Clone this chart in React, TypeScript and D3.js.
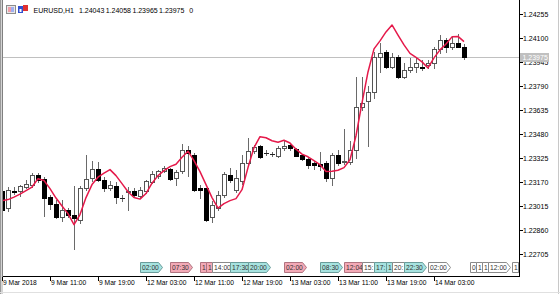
import React from "react";
import * as d3 from "d3";

// ---- data (EURUSD H1) ----
const opens = [1.23112,1.23002,1.23112,1.23109,1.23136,1.23151,1.23215,1.23189,1.23069,1.23026,1.22938,1.22989,1.22952,1.22925,1.23131,1.23196,1.23254,1.2318,1.23129,1.23144,1.23067,1.23105,1.23107,1.2308,1.23107,1.23168,1.23209,1.23237,1.23254,1.23194,1.23237,1.23373,1.23344,1.23127,1.23129,1.22938,1.23,1.23086,1.23215,1.23118,1.23177,1.23291,1.23366,1.23403,1.23357,1.23351,1.23333,1.23388,1.23404,1.23381,1.23344,1.23317,1.23291,1.23286,1.23291,1.23194,1.23344,1.23296,1.23299,1.23377,1.23656,1.23689,1.23753,1.23979,1.24012,1.23911,1.23979,1.2385,1.23893,1.23915,1.23913,1.23926,1.23937,1.24027,1.24087,1.24044,1.2407,1.24043];
const highs = [1.23131,1.23138,1.23138,1.23151,1.23183,1.23228,1.23228,1.23202,1.23086,1.23054,1.23054,1.23002,1.2314,1.23144,1.23344,1.23306,1.23296,1.23199,1.23177,1.2317,1.23086,1.23136,1.23131,1.23136,1.23183,1.23237,1.23248,1.23273,1.23259,1.23243,1.23414,1.23398,1.23355,1.23151,1.23131,1.23043,1.23107,1.23235,1.23261,1.23248,1.23344,1.23452,1.23409,1.23409,1.23377,1.23362,1.23398,1.2343,1.23415,1.23388,1.23351,1.2333,1.23301,1.23359,1.23301,1.23355,1.23377,1.2351,1.2343,1.23848,1.23848,1.23786,1.24012,1.24066,1.24023,1.24001,1.2399,1.23937,1.23969,1.23969,1.23958,1.23958,1.24044,1.24119,1.24098,1.24108,1.24126,1.24058];
const lows = [1.22983,1.2298,1.23093,1.2308,1.23131,1.23138,1.2317,1.22946,1.22996,1.22934,1.22914,1.22938,1.22735,1.22905,1.23118,1.23172,1.23177,1.23112,1.23118,1.23033,1.23043,1.22989,1.23075,1.23071,1.23097,1.23162,1.23194,1.2323,1.23183,1.23151,1.23226,1.23204,1.23112,1.23065,1.22914,1.22912,1.22989,1.23073,1.2317,1.23105,1.23157,1.2328,1.23355,1.23323,1.23344,1.23338,1.2333,1.23377,1.23377,1.23333,1.23308,1.23259,1.23252,1.23248,1.23172,1.23151,1.2328,1.23286,1.23286,1.23323,1.23635,1.23398,1.23711,1.23882,1.23904,1.23904,1.2384,1.2384,1.23882,1.23882,1.23893,1.23904,1.23904,1.24001,1.24012,1.24027,1.2404,1.23965];
const closes = [1.22989,1.23118,1.23105,1.2314,1.23157,1.23215,1.23183,1.23067,1.23026,1.22938,1.22985,1.22951,1.22936,1.23129,1.23189,1.23254,1.2318,1.23129,1.23151,1.2307,1.23062,1.2311,1.23086,1.23114,1.23172,1.23222,1.23237,1.23259,1.23189,1.2323,1.23377,1.23354,1.23118,1.23118,1.22925,1.23018,1.23083,1.23222,1.23183,1.23196,1.23293,1.23366,1.23392,1.2333,1.23353,1.23346,1.23388,1.23403,1.23388,1.23338,1.23319,1.2328,1.23275,1.23273,1.23194,1.23344,1.23291,1.23302,1.23377,1.23654,1.23682,1.23753,1.23979,1.24005,1.23915,1.23979,1.2385,1.23893,1.23915,1.23937,1.23908,1.23941,1.24027,1.24087,1.24044,1.2407,1.24044,1.23975];
const maValues = [1.23047,1.23054,1.2307,1.23089,1.23112,1.23135,1.23189,1.23177,1.23125,1.23064,1.23012,1.22963,1.22892,1.22957,1.23067,1.23151,1.23199,1.23225,1.23248,1.23209,1.23157,1.23105,1.23067,1.23057,1.23093,1.2316,1.23209,1.23241,1.23267,1.23283,1.23328,1.23367,1.23306,1.23235,1.23151,1.23067,1.22999,1.23028,1.23047,1.2306,1.23118,1.23261,1.2339,1.23461,1.23454,1.23435,1.23425,1.23438,1.2342,1.2338,1.23348,1.23331,1.23306,1.2328,1.23235,1.23237,1.23244,1.23261,1.23312,1.23467,1.2368,1.2388,1.24029,1.24081,1.24139,1.24184,1.24119,1.24055,1.24,1.23974,1.23945,1.23906,1.23971,1.24023,1.24061,1.24107,1.2411,1.24076];

const priceTicks = [1.24255,1.241,1.23945,1.2379,1.23635,1.2348,1.23325,1.2317,1.23015,1.2286,1.22705];
const priceLabels = ["1.24255","1.24100","1.23945","1.23790","1.23635","1.23480","1.23325","1.23170","1.23015","1.22860","1.22705"];
const timeTickBars = [0,8,16,24,32,40,48,56,64,72];
const timeTickLabels = ["9 Mar 2018","9 Mar 11:00","9 Mar 19:00","12 Mar 03:00","12 Mar 11:00","12 Mar 19:00","13 Mar 03:00","13 Mar 11:00","13 Mar 19:00","14 Mar 03:00"];

const eventBars = [23,28,33,34,35,38,41,47,53,57,60,62,64,65,67,71,78,79,80,81,85,86];
const eventLabels = ["02:00","07:30","12:30","13:30","14:00","17:30","20:00","02:00","08:30","12:04","15:00","17:00","19:00","20:00","22:30","02:00","09:00","10:00","11:00","12:00","16:00","17:00"];
const eventKinds = ["t","p","p","p","w","t","t","p","t","p","w","t","t","w","t","w","w","w","w","w","w","w"];

const symbolText = "EURUSD,H1";
const ohlcValues = ["1.24043", "1.24058", "1.23965", "1.23975"];
const volumeText = "0";
const lastPrice = 1.23975;
const lastPriceLabel = "1.23975";

const FONT = "'Liberation Sans', Arial, sans-serif";
const PLOT_R = 519;
const PLOT_B = 276;
const EV_FONT = 6.7;
const EV_W = 22;

const kindFill: Record<string, string> = { t: "#a6e3e0", p: "#f3a9b6", w: "#ffffff" };
const kindStroke: Record<string, string> = { t: "#6a9c9a", p: "#b07480", w: "#8a8a8a" };

function fitLabel(label: string, avail: number) {
  let w = 1.6;
  let out = "";
  for (const ch of label) {
    const cw = (ch === ":" ? 0.278 : 0.556) * EV_FONT;
    if (w + cw > avail + 0.4) break;
    w += cw;
    out += ch;
  }
  return out;
}

export default function App() {
  const x = d3.scaleLinear().domain([0, 1]).range([2, 8]);
  const y = d3.scaleLinear().domain([1.22705, 1.24255]).range([253.5, 14]);
  const maLine = d3
    .line<number>()
    .x((_, i) => x(i))
    .y((d) => y(d));

  const candles = opens.map((o, i) => {
    const c = closes[i];
    const cx = Math.round(x(i));
    const yo = Math.round(y(o));
    const yc = Math.round(y(c));
    const top = Math.min(yo, yc);
    const bot = Math.max(yo, yc);
    const bull = c >= o;
    return (
      <g key={i}>
        <line x1={cx + 0.5} x2={cx + 0.5} y1={Math.round(y(highs[i]))} y2={Math.round(y(lows[i])) + 1} stroke="#6a6a6a" strokeWidth={1} />
        {bot - top >= 1 ? (
          <rect x={cx - 1.5} y={top + 0.5} width={4} height={bot - top} fill={bull ? "#ffffff" : "#000000"} stroke={bull ? "#555555" : "#000000"} strokeWidth={1} />
        ) : (
          <line x1={cx - 2} x2={cx + 3} y1={top + 0.5} y2={top + 0.5} stroke="#222" strokeWidth={1} />
        )}
      </g>
    );
  });

  const yLast = Math.round(y(lastPrice)) + 0.5;

  const events = eventBars.map((b, i) => {
    const ex = Math.round(x(b)) + 0.5;
    const nextX = i + 1 < eventBars.length ? Math.round(x(eventBars[i + 1])) + 0.5 : Infinity;
    const avail = Math.min(nextX, PLOT_R) - ex;
    const y0 = 262.5, y1 = 272.5;
    const full = avail >= EV_W;
    const w = full ? EV_W : avail;
    const pts = full
      ? `${ex},${y0} ${ex + w - 4},${y0} ${ex + w},${(y0 + y1) / 2} ${ex + w - 4},${y1} ${ex},${y1}`
      : `${ex},${y0} ${ex + w},${y0} ${ex + w},${y1} ${ex},${y1}`;
    const txt = full ? eventLabels[i] : fitLabel(eventLabels[i], avail);
    return (
      <g key={"e" + i}>
        <polygon points={pts} fill={kindFill[eventKinds[i]]} stroke={kindStroke[eventKinds[i]]} strokeWidth={1} />
        {txt && (
          <text x={ex + 1.6} y={270.3} fontSize={EV_FONT} fill="#333">{txt}</text>
        )}
      </g>
    );
  });

  const ohlcX = [79, 105.7, 132.4, 159.1];

  return (
    <svg width={560} height={294} style={{ position: "absolute", left: 0, top: 0, display: "block", background: "#ffffff" }} fontFamily={FONT}>
      <rect x={0} y={0} width={560} height={294} fill="#ffffff" />
      <defs>
        <clipPath id="plot">
          <rect x={3} y={0} width={PLOT_R - 3} height={PLOT_B} />
        </clipPath>
      </defs>

      {/* price line */}
      <line x1={3} x2={PLOT_R} y1={yLast} y2={yLast} stroke="#c0c0c0" strokeWidth={1} />

      <g clipPath="url(#plot)">
        {candles}
        <path d={maLine(maValues) || ""} fill="none" stroke="#e5194a" strokeWidth={1.5} strokeLinejoin="round" />
        {events}
      </g>

      {/* left frame */}
      <rect x={0} y={0} width={3} height={294} fill="#d4d4d4" />
      <line x1={0.5} x2={0.5} y1={0} y2={294} stroke="#9a9a9a" />
      <line x1={2.5} x2={2.5} y1={0} y2={PLOT_B + 1} stroke="#808080" />

      {/* axes */}
      <line x1={PLOT_R + 0.5} x2={PLOT_R + 0.5} y1={0} y2={PLOT_B + 1} stroke="#000" />
      <line x1={3} x2={PLOT_R + 1} y1={PLOT_B + 0.5} y2={PLOT_B + 0.5} stroke="#000" />

      {priceTicks.map((p, i) => {
        const ty = Math.round(y(p)) + 0.5;
        return (
          <g key={"p" + i}>
            <line x1={PLOT_R + 1} x2={PLOT_R + 4} y1={ty} y2={ty} stroke="#000" />
            <text x={523} y={ty + 2.5} fontSize={7} fill="#000">{priceLabels[i]}</text>
          </g>
        );
      })}

      {/* last price tag */}
      <rect x={520} y={yLast - 4.5} width={29} height={9} fill="#c0c0c0" />
      <text x={522.5} y={yLast + 2.5} fontSize={7} fill="#ffffff">{lastPriceLabel}</text>

      {timeTickBars.map((b, i) => {
        const tx = Math.round(x(b)) + 0.5;
        return (
          <g key={"t" + i}>
            <line x1={tx} x2={tx} y1={PLOT_B + 1} y2={PLOT_B + 5} stroke="#000" />
            <text x={tx + 0.5} y={285} fontSize={6.7} fill="#000">{timeTickLabels[i]}</text>
          </g>
        );
      })}

      {/* right & bottom window frame */}
      <line x1={558.5} x2={558.5} y1={0} y2={294} stroke="#c8c8c8" />
      <line x1={0} x2={560} y1={292.5} y2={292.5} stroke="#e0e0e0" />

      {/* header */}
      <g>
        <rect x={6.5} y={5.5} width={9} height={8} fill="#e8e8e8" stroke="#8c8c8c" />
        <rect x={8} y={7} width={3} height={5} fill="#f0a0a8" />
        <rect x={11} y={7} width={3} height={5} fill="#a0b0f0" />
        <rect x={18} y={6} width={5} height={7} fill="#3050d0" />
        <rect x={23} y={5} width={5} height={6} fill="#e03030" />
        <rect x={19.5} y={9} width={2} height={3} fill="#ffffff" />
        <text x={33.5} y={12.5} fontSize={7} fill="#000">{symbolText}</text>
        {ohlcValues.map((v, i) => (
          <text key={"o" + i} x={ohlcX[i]} y={12.5} fontSize={7} fill="#000">{v}</text>
        ))}
        <text x={189.3} y={12.5} fontSize={7} fill="#000">{volumeText}</text>
      </g>
    </svg>
  );
}
